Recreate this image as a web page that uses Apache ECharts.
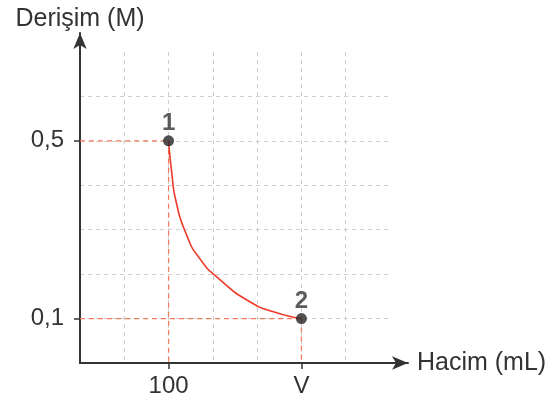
<!DOCTYPE html>
<html><head><meta charset="utf-8">
<script src="https://cdn.jsdelivr.net/npm/echarts@6/dist/echarts.min.js"></script>
<style>html,body{margin:0;padding:0;background:#fff}#c{width:551px;height:401px}</style>
</head><body><div id="c"></div>
<script>
// Data (x in mL with 50 per grid division, y in M)
const curveX = [100, 103.3, 108.4, 120.2, 135.6, 157.3, 190.8, 220.2, 250];
const curveY = [0.5, 0.434, 0.364, 0.289, 0.234, 0.189, 0.139, 0.114, 0.1];
const pointX = [100, 250];
const pointY = [0.5, 0.1];
const pointNames = ['1', '2'];
const xTickValues = [100, 250];
const xTickLabels = ['100', 'V'];
const yTickValues = [0.1, 0.5];
const yTickLabels = ['0,1', '0,5'];
const xName = 'Hacim (mL)';
const yName = 'Derişim (M)';

const FONT = 'Liberation Sans, Arial, sans-serif';
const dark = '#333333';
const red = '#ee3a2a';
const guide = '#f47a60';

const curve = curveX.map((x, i) => [x, curveY[i]]);
const pts = pointX.map((x, i) => ({ value: [x, pointY[i]], name: pointNames[i] }));
const guides = [];
pointX.forEach((x, i) => {
  guides.push([[0, pointY[i]], [x, pointY[i]]]);
  guides.push([[x, pointY[i]], [x, 0]]);
});

const chart = echarts.init(document.getElementById('c'), null, { renderer: 'canvas' });
const xLabelMap = {}; xTickValues.forEach((v, i) => xLabelMap[v] = xTickLabels[i]);
const yLabelMap = {}; yTickValues.forEach((v, i) => yLabelMap[v.toFixed(1)] = yTickLabels[i]);

const series = [];
guides.forEach(g => series.push({
  type: 'line', xAxisIndex: 0, yAxisIndex: 0, data: g, symbol: 'none', silent: true,
  lineStyle: { color: guide, width: 1.3, type: [5, 4] }, z: 2, animation: false
}));
series.push({
  type: 'line', xAxisIndex: 0, yAxisIndex: 0, data: curve, symbol: 'none', smooth: 0.6,
  lineStyle: { color: red, width: 1.6 }, z: 3, animation: false
});
series.push({
  type: 'scatter', xAxisIndex: 0, yAxisIndex: 0, data: pts, symbolSize: 11,
  itemStyle: { color: '#262626' }, z: 4, animation: false,
  label: { show: true, position: 'top', distance: 0, formatter: p => p.name,
    fontFamily: FONT, fontSize: 24, fontWeight: 'bold', color: dark }
});

const splitStyle = { show: true, showMinLine: false, showMaxLine: false,
  lineStyle: { color: '#d0d0d0', type: [4, 4], width: 1 } };

chart.setOption({
  animation: false,
  grid: [
    { left: 80, top: 52, width: 310, height: 311 },
    { left: 80, top: 33, width: 328, height: 330 }
  ],
  xAxis: [
    { type: 'value', gridIndex: 0, min: 0, max: 350, interval: 50,
      axisLine: { show: false },
      axisTick: { show: true, customValues: xTickValues, length: 6, lineStyle: { color: dark, width: 1.5 } },
      axisLabel: { customValues: xTickValues, formatter: v => xLabelMap[v] || '', fontFamily: FONT, fontSize: 24, color: dark, margin: 11 },
      splitLine: { show: false } },
    { type: 'value', gridIndex: 1, min: 0, max: 370.3, interval: 50,
      axisLine: { show: true, symbol: ['none', 'arrow'], symbolSize: [10, 16], lineStyle: { color: dark, width: 2 } },
      axisTick: { show: false }, axisLabel: { show: false }, splitLine: { show: false },
      name: xName, nameLocation: 'end', nameGap: 9,
      nameTextStyle: { fontFamily: FONT, fontSize: 25, color: dark, verticalAlign: 'middle' } },
    { type: 'value', gridIndex: 0, min: 0, max: 350, interval: 50,
      axisLine: { show: false }, axisTick: { show: false }, axisLabel: { show: false },
      splitLine: splitStyle }
  ],
  yAxis: [
    { type: 'value', gridIndex: 0, min: 0, max: 0.7, interval: 0.1,
      axisLine: { show: false },
      axisTick: { show: true, customValues: yTickValues, length: 6, lineStyle: { color: dark, width: 1.5 } },
      axisLabel: { customValues: yTickValues, formatter: v => yLabelMap[v.toFixed(1)] || '', fontFamily: FONT, fontSize: 24, color: dark, margin: 16 },
      splitLine: { show: false } },
    { type: 'value', gridIndex: 1, min: 0, max: 0.745, interval: 0.1,
      axisLine: { show: true, symbol: ['none', 'arrow'], symbolSize: [10, 16], lineStyle: { color: dark, width: 2 } },
      axisTick: { show: false }, axisLabel: { show: false }, splitLine: { show: false },
      name: yName, nameLocation: 'end', nameGap: 1,
      nameTextStyle: { fontFamily: FONT, fontSize: 25, color: dark, align: 'center' } },
    { type: 'value', gridIndex: 0, min: 0, max: 0.7, interval: 0.1,
      axisLine: { show: false }, axisTick: { show: false }, axisLabel: { show: false },
      splitLine: splitStyle }
  ],
  series: series
});
</script></body></html>
